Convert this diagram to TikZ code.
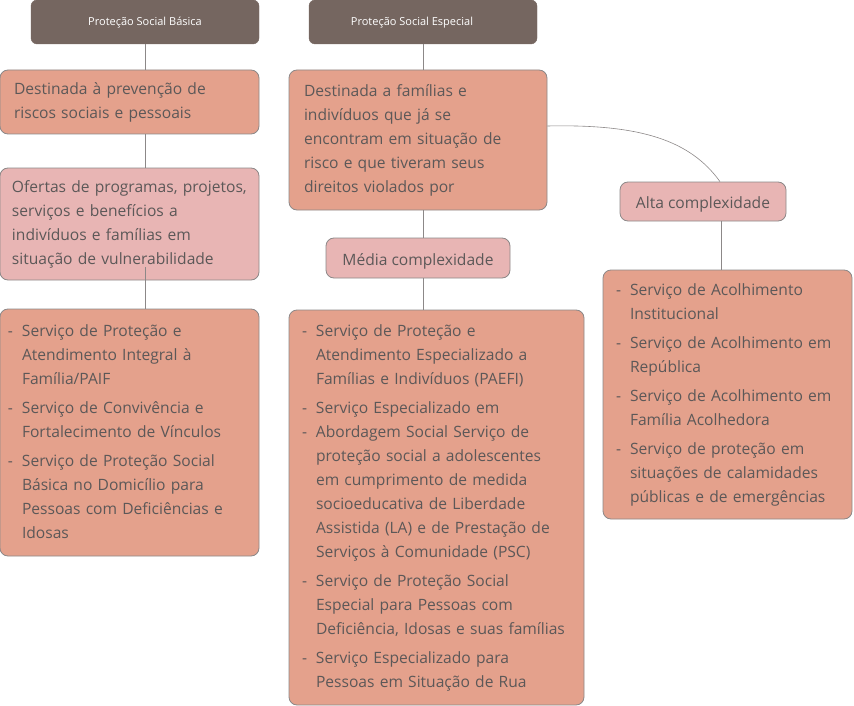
\documentclass[tikz,border=0pt]{standalone}
\usepackage{fontspec}
\setmainfont{Open Sans}
\usetikzlibrary{positioning}

\definecolor{hdrbrown}{HTML}{756660}
\definecolor{salmon}{HTML}{E4A18C}
\definecolor{rosy}{HTML}{E8B5B4}
\definecolor{edgegray}{HTML}{8C8888}
\definecolor{txtgray}{HTML}{5C5858}

\tikzset{
  hdr/.style={draw=hdrbrown, fill=hdrbrown, rounded corners=6pt, text=white,
    font=\fontsize{11}{13}\selectfont, minimum width=228pt, minimum height=44pt,
    text height=10pt, text depth=2pt},
  box/.style={draw=edgegray, line width=0.8pt, rounded corners=8pt, text=txtgray,
    align=left, font=\fontsize{15.6}{24}\selectfont, inner ysep=0pt},
  salmonbox/.style={box, fill=salmon},
  pinkbox/.style={box, fill=rosy},
  tag/.style={pinkbox, align=center, text height=16pt, text depth=2pt},
  link/.style={draw=edgegray, line width=0.8pt},
}

\begin{document}
\begin{tikzpicture}[x=1pt,y=1pt]
  \useasboundingbox (0,0) rectangle (854,-706);

  % headers
  \node[hdr] (pb) at (145,-22) {Proteção Social Básica};
  \node[hdr] (pe) at (423,-22) {Proteção Social Especial\hspace*{22pt}};

  % basica
  \node[salmonbox, inner xsep=14pt, text width=231pt, minimum height=64pt] (bprev) at (129.5,-102)
    {\begin{tabular}{@{}l@{}}
      Destinada à prevenção de\\
      riscos sociais e pessoais
    \end{tabular}};
  \node[pinkbox, inner xsep=12pt, text width=235pt, minimum height=112pt] (boferta) at (129.5,-224)
    {\begin{tabular}{@{}l@{}}
      Ofertas de programas, projetos,\\
      serviços e benefícios a\\
      indivíduos e famílias em\\
      situação de vulnerabilidade
    \end{tabular}};
  \node[salmonbox, inner xsep=8pt, text width=243pt, minimum height=247pt] (bserv) at (129.5,-432.5)
    {\begin{tabular}{@{}p{14pt}@{}l@{}}
      - & Serviço de Proteção e\\
        & Atendimento Integral à\\
        & Família/PAIF\\[5pt]
      - & Serviço de Convivência e\\
        & Fortalecimento de Vínculos\\[5pt]
      - & Serviço de Proteção Social\\
        & Básica no Domicílio para\\
        & Pessoas com Deficiências e\\
        & Idosas
    \end{tabular}};

  % especial
  \node[salmonbox, inner xsep=15pt, text width=228pt, minimum height=140pt] (edest) at (418,-140)
    {\begin{tabular}{@{}l@{}}
      Destinada a famílias e\\
      indivíduos que já se\\
      encontram em situação de\\
      risco e que tiveram seus\\
      direitos violados por
    \end{tabular}};
  \node[tag, minimum width=184pt, minimum height=40pt] (media) at (418,-258)
    {Média complexidade};
  \node[salmonbox, inner xsep=13pt, text width=269pt, minimum height=395pt] (eserv) at (436.5,-507.5)
    {\begin{tabular}{@{}p{14pt}@{}l@{}}
      - & Serviço de Proteção e\\
        & Atendimento Especializado a\\
        & Famílias e Indivíduos (PAEFI)\\[5pt]
      - & Serviço Especializado em\\
      - & Abordagem Social Serviço de\\
        & proteção social a adolescentes\\
        & em cumprimento de medida\\
        & socioeducativa de Liberdade\\
        & Assistida (LA) e de Prestação de\\
        & Serviços à Comunidade (PSC)\\[5pt]
      - & Serviço de Proteção Social\\
        & Especial para Pessoas com\\
        & Deficiência, Idosas e suas famílias\\[5pt]
      - & Serviço Especializado para\\
        & Pessoas em Situação de Rua
    \end{tabular}};
  \node[tag, minimum width=166pt, minimum height=39pt] (alta) at (703,-201.5)
    {Alta complexidade};
  \node[salmonbox, inner xsep=13pt, text width=223pt, minimum height=249pt] (aserv) at (727.5,-394.5)
    {\begin{tabular}{@{}p{14pt}@{}l@{}}
      - & Serviço de Acolhimento\\
        & Institucional\\[5pt]
      - & Serviço de Acolhimento em\\
        & República\\[5pt]
      - & Serviço de Acolhimento em\\
        & Família Acolhedora\\[5pt]
      - & Serviço de proteção em\\
        & situações de calamidades\\
        & públicas e de emergências
    \end{tabular}};

  % links
  \draw[link] (pb.south) -- (pb.south |- bprev.north);
  \draw[link] (pb.south |- bprev.south) -- (pb.south |- boferta.north);
  \draw[link] ([yshift=13pt]pb.south |- boferta.south) -- (pb.south |- bserv.north);
  \draw[link] (pe.south) -- (pe.south |- edest.north);
  \draw[link] (pe.south |- edest.south) -- (pe.south |- media.north);
  \draw[link] (pe.south |- media.south) -- (pe.south |- eserv.north);
  \draw[link, line width=0.6pt] ([yshift=14pt]edest.east) .. controls (640,-124) and (690,-140) .. ([xshift=17pt]alta.north);
  \draw[link] ([xshift=18pt]alta.south) -- ([xshift=18pt]alta.south |- aserv.north);
\end{tikzpicture}
\end{document}
